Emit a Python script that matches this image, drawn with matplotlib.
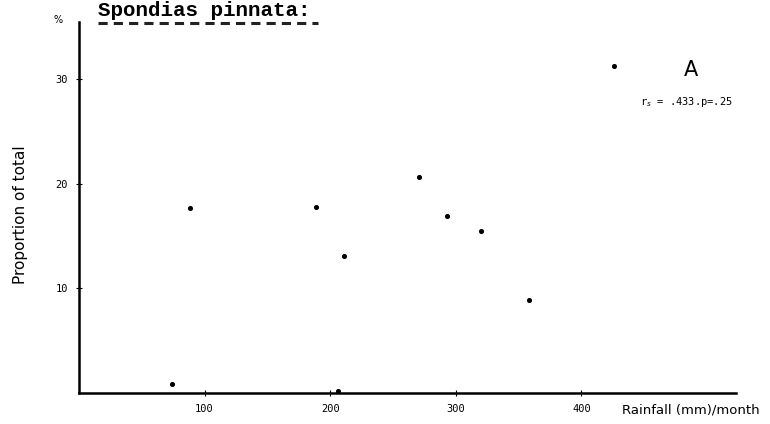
import matplotlib
matplotlib.use("Agg")
import matplotlib.pyplot as plt
from matplotlib.lines import Line2D

# Data
rainfall = [74, 88, 189, 211, 206, 271, 293, 320, 358, 426]
proportion = [0.9, 17.7, 17.8, 13.1, 0.2, 20.7, 16.9, 15.5, 8.9, 31.3]
x_ticks = [100, 200, 300, 400]
y_ticks = [10, 20, 30]
title = "Spondias pinnata:"
stat_text = "r$_s$ = .433.p=.25"

fig = plt.figure(figsize=(7.7, 4.24), dpi=100)
ax = fig.add_axes([0.1026, 0.0731, 0.853, 0.875])
ax.scatter(rainfall, proportion, s=7, color="black", zorder=3)

ax.set_xlim(0, 523)
ax.set_ylim(0, 35.5)
ax.spines["top"].set_visible(False)
ax.spines["right"].set_visible(False)
for s in ("left", "bottom"):
    ax.spines[s].set_linewidth(1.8)
ax.set_xticks(x_ticks)
ax.set_xticklabels([str(v) for v in x_ticks], fontsize=7.5, family="DejaVu Sans Mono")
ax.set_yticks(y_ticks)
ax.set_yticklabels([str(v) for v in y_ticks], fontsize=7.5, family="DejaVu Sans Mono")
ax.tick_params(axis="both", direction="inout", length=4, width=0.8, pad=6)

ax.set_ylabel("Proportion of total", fontsize=11)
ax.yaxis.set_label_coords(-0.078, 0.48)
fig.text(622 / 770, 0.018, "Rainfall (mm)/month", fontsize=9.5, ha="left", va="bottom")
fig.text(0.075, 0.953, "%", fontsize=7, ha="center", va="center")

fig.text(98 / 770, 1 - 16 / 424, title, fontsize=15, family="Liberation Mono",
         fontweight="bold", ha="left", va="baseline")
fig.add_artist(Line2D([98 / 770, 318 / 770], [1 - 23 / 424, 1 - 23 / 424],
                      transform=fig.transFigure, color="#222222", lw=2.2,
                      linestyle=(0, (3, 2))))

ax.text(0.921, 0.871, "A", transform=ax.transAxes, fontsize=15, ha="left", va="center")
ax.text(0.854, 0.784, stat_text, transform=ax.transAxes, fontsize=7.5,
        family="DejaVu Sans Mono", ha="left", va="center")

fig.savefig("out.png", dpi=100)
